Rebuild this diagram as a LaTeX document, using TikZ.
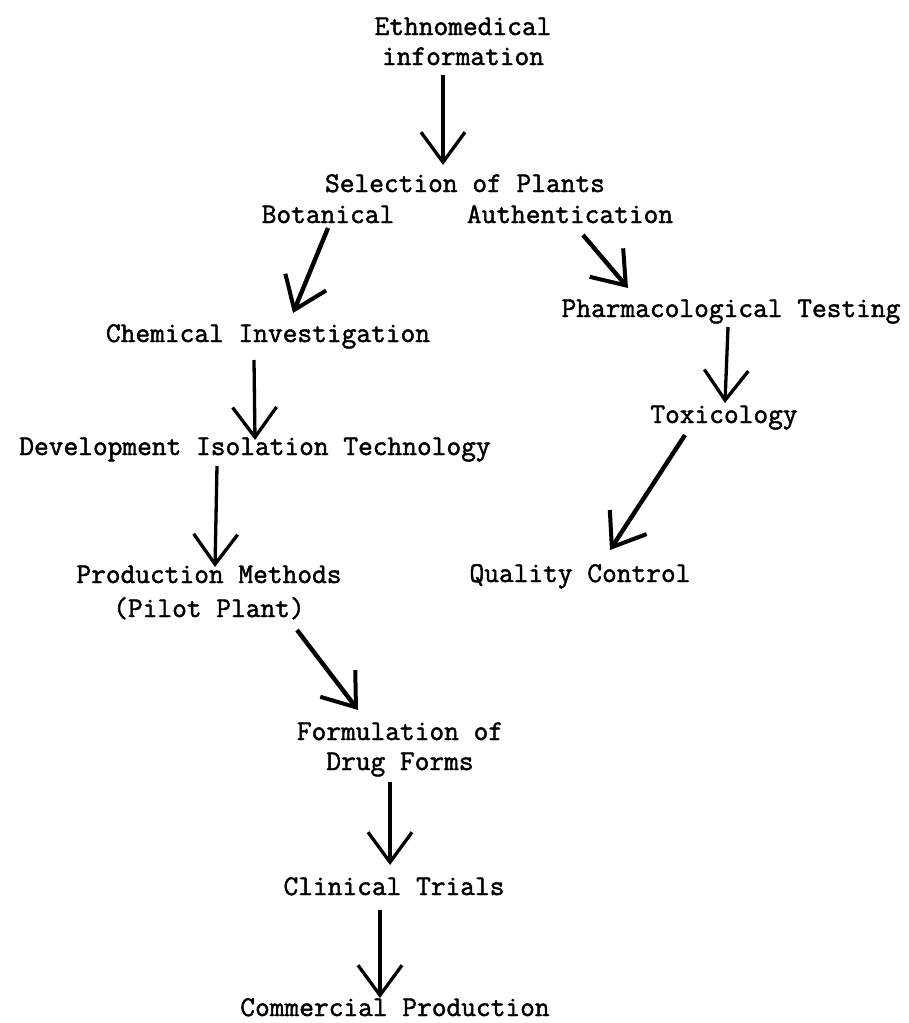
\documentclass[tikz,border=0pt]{standalone}
\usepackage{fontspec}
\newfontfamily\tw[FakeBold=1.6]{Latin Modern Mono}
\usetikzlibrary{arrows.meta,calc}
\tikzset{
  lbl/.style={anchor=base,inner sep=0pt,align=center,font=\tw\fontsize{28.6}{30}\selectfont},
  arr/.style={line width=3.3pt,-{Straight Barb[length=30pt,width=44pt,line width=3.3pt]}},
  arrb/.style={line width=4.4pt,-{Straight Barb[length=30pt,width=44pt,line width=4pt]}}
}
\begin{document}
\begin{tikzpicture}[x=1pt,y=-1pt]
\useasboundingbox (0,0) rectangle (909,1023);
\node[lbl] (ethno) at (463,65) {Ethnomedical\\information};
\node[lbl] (sel) at (465,192) {Selection of Plants};
\node[lbl] (bot) at (328,223) {Botanical};
\node[lbl] (auth) at (570,223) {Authentication};
\node[lbl] (chem) at (268,342) {Chemical Investigation};
\node[lbl] (pharm) at (731,317) {Pharmacological Testing};
\node[lbl] (dev) at (255,455) {Development Isolation Technology};
\node[lbl] (tox) at (724,423) {Toxicology};
\node[lbl] (qual) at (580,582) {Quality Control};
\node[lbl] (prod) at (209,617) {Production Methods\\[4pt](Pilot Plant)};
\node[lbl] (form) at (400,770) {Formulation of\\Drug Forms};
\node[lbl] (clin) at (394,895) {Clinical Trials};
\node[lbl] (comm) at (395,1016) {Commercial Production};

\draw[arr] ($(ethno.base)+(-20,10)$) -- ($(sel.base)+(-22,-27)$);
\draw[arrb] ($(bot.base)+(0,5)$) -- ($(chem.base)+(25,-29)$);
\draw[arrb] ($(auth.base)+(13,12)$) -- ($(pharm.base)+(-103,-29)$);
\draw[arr] ($(chem.base)+(-14,18)$) -- ($(dev.base)+(0,-15)$);
\draw[arr] ($(dev.base)+(-38,11)$) -- ($(prod.base)+(6,-50)$);
\draw[arr] ($(pharm.base)+(-3,10)$) -- ($(tox.base)+(1,-20)$);
\draw[arrb] ($(tox.base)+(-39,12)$) -- ($(qual.base)+(30,-32)$);
\draw[arrb] ($(prod.base)+(88,13)$) -- ($(form.base)+(-42,-60)$);
\draw[arr] ($(form.base)+(-10,12)$) -- ($(clin.base)+(-4,-30)$);
\draw[arr] ($(clin.base)+(-14,15)$) -- ($(comm.base)+(-15,-18)$);
\end{tikzpicture}
\end{document}
